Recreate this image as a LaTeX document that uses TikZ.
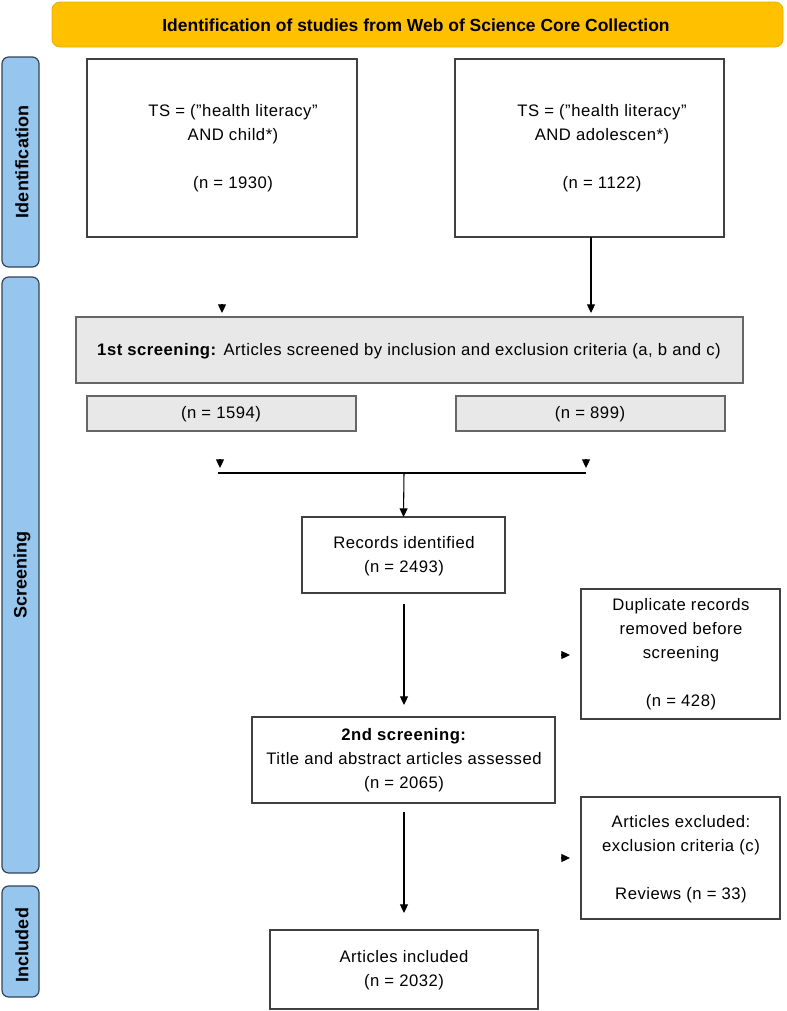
\documentclass[tikz,border=0pt]{standalone}
\usepackage{fontspec}
\setmainfont{Liberation Sans}
\usetikzlibrary{arrows.meta}
\definecolor{bannerfill}{RGB}{255,192,0}
\definecolor{bannerdraw}{RGB}{235,175,0}
\definecolor{sidefill}{RGB}{150,198,238}
\definecolor{sidedraw}{RGB}{50,68,88}
\definecolor{grayfill}{RGB}{232,232,232}
\definecolor{boxdraw}{RGB}{64,64,64}
\newcommand{\pbox}[6]{% name, x1, y1, x2, y2, style
  \node[#6, minimum width={(#4-#2)*0.75pt}, minimum height={(#5-#3)*0.75pt}] (#1) at ({(#2+#4)/2},{(#3+#5)/2}) {};}
\begin{document}
\begin{tikzpicture}[x=0.75pt,y=-0.75pt,
  every node/.style={inner sep=0pt, outer sep=0pt},
  banner/.style={draw=bannerdraw, fill=bannerfill, rounded corners=6pt, line width=0.6pt},
  side/.style={draw=sidedraw, fill=sidefill, rounded corners=5pt, line width=0.9pt},
  wbox/.style={draw=boxdraw, fill=white, line width=0.9pt},
  gbox/.style={draw=boxdraw!80, fill=grayfill, line width=0.9pt},
  txt/.style={align=center, font=\fontsize{12.5}{18}\selectfont\addfontfeature{LetterSpace=3}},
  sidetxt/.style={rotate=90, font=\fontsize{13.5}{15}\selectfont\bfseries},
  arr/.style={draw=black, line width=0.8pt, -{Triangle[length=6.5pt,width=6pt]}},
  ln/.style={draw=black, line width=0.8pt}]
\useasboundingbox (0,0) rectangle (787,1011);
% banner
\pbox{banner}{52}{2}{783}{47}{banner}
\node[font=\fontsize{13.1}{15}\selectfont\bfseries] (bannertxt) at (416,25) {Identification of studies from Web of Science Core Collection};
% side bars
\pbox{sideid}{2}{57}{39}{267}{side}
\pbox{sidescr}{2}{277}{39}{873}{side}
\pbox{sideinc}{2}{886}{39}{997}{side}
\node[sidetxt] (sideidt) at (22,162) {Identification};
\node[sidetxt] (sidescrt) at (22,575) {Screening};
\node[sidetxt] (sideinct) at (22,945) {Included};
% identification boxes
\pbox{boxA}{87}{59}{357}{237}{wbox}
\pbox{boxB}{455}{59}{724}{237}{wbox}
\node[txt] (boxAt) at (233,148) {TS = ("health literacy"\\AND child*)\\[18pt](n = 1930)};
\node[txt] (boxBt) at (602,148) {TS = ("health literacy"\\AND adolescen*)\\[18pt](n = 1122)};
% 1st screening
\pbox{scr1}{76}{317}{743}{383}{gbox}
\node[txt] (scr1t) at (409,351) {\textbf{1st screening:} Articles screened by inclusion and exclusion criteria (a, b and c)};
\pbox{nA}{87}{396}{356}{431}{gbox}
\pbox{nB}{456}{396}{725}{431}{gbox}
\node[txt] (nAt) at (221,414) {(n = 1594)};
\node[txt] (nBt) at (590,414) {(n = 899)};
% records
\pbox{rec}{302}{517}{505}{593}{wbox}
\node[txt] (rect) at (404,556) {Records identified\\(n = 2493)};
\pbox{dup}{581}{589}{780}{719}{wbox}
\node[txt] (dupt) at (681,654) {Duplicate records\\removed before\\screening\\[18pt](n = 428)};
\pbox{scr2}{252}{717}{555}{803}{wbox}
\node[txt] (scr2t) at (404,760) {\textbf{2nd screening:}\\Title and abstract articles assessed\\(n = 2065)};
\pbox{exc}{581}{797}{780}{919}{wbox}
\node[txt] (exct) at (681,859) {Articles excluded:\\exclusion criteria (c)\\[18pt]Reviews (n = 33)};
\pbox{inc}{270}{930}{538}{1009}{wbox}
\node[txt] (inct) at (404,970) {Articles included\\(n = 2032)};
% connectors
\coordinate (bBend) at (591,313);
\draw[arr] (boxB.south -| bBend) -- (bBend);
\coordinate (aS) at (222,304);
\coordinate (aE) at (222,313);
\draw[arr] (aS) -- (aE);
\coordinate (m1s) at (220,459);
\coordinate (m1e) at (220,468);
\draw[arr] (m1s) -- (m1e);
\coordinate (m2s) at (586,459);
\coordinate (m2e) at (586,468);
\draw[arr] (m2s) -- (m2e);
\coordinate (hl) at (218,473);
\coordinate (hr) at (586,473);
\coordinate (hm) at (404,473);
\draw[ln] (hl) -- (hr);
\draw[arr] (hm) -- (rec.north);
\coordinate (r1) at (404,604);
\coordinate (r2) at (404,705);
\draw[arr] (r1) -- (r2);
\coordinate (d1s) at (561,655);
\coordinate (d1e) at (570,655);
\draw[arr] (d1s) -- (d1e);
\coordinate (s1) at (404,812);
\coordinate (s2) at (404,913);
\draw[arr] (s1) -- (s2);
\coordinate (e1s) at (561,858);
\coordinate (e1e) at (570,858);
\draw[arr] (e1s) -- (e1e);
\end{tikzpicture}
\end{document}
